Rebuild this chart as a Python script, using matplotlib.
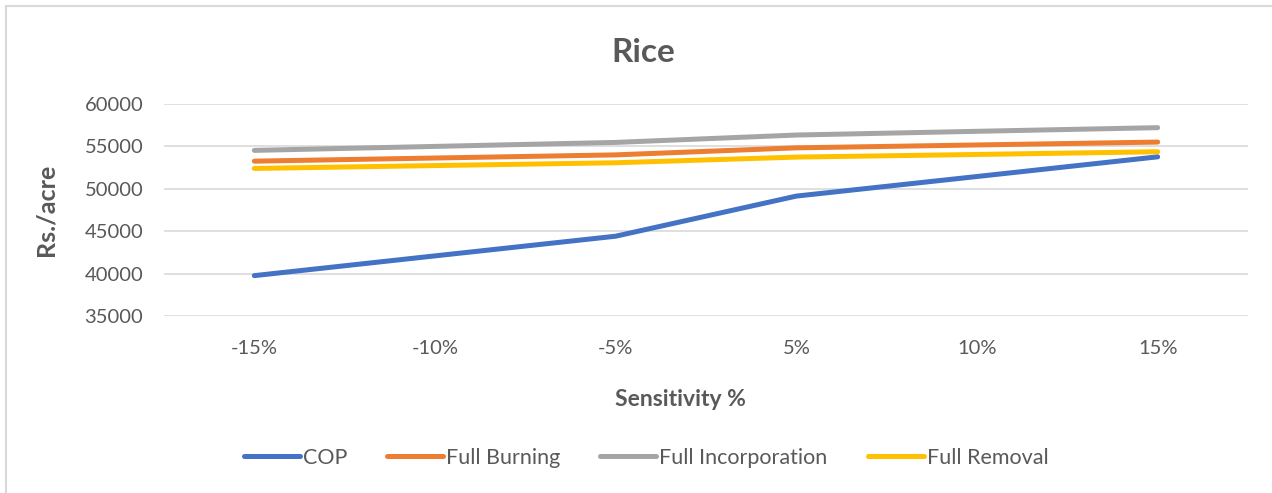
import matplotlib.pyplot as plt
from matplotlib.patches import Rectangle

# categories and series
categories = ["-15%", "-10%", "-5%", "5%", "10%", "15%"]
cop = [39760, 42090, 44410, 49140, 51450, 53770]
full_burning = [53260, 53630, 54000, 54830, 55170, 55510]
full_incorporation = [54530, 55000, 55470, 56340, 56780, 57210]
full_removal = [52400, 52740, 53070, 53740, 54050, 54370]

series_names = ["COP", "Full Burning", "Full Incorporation", "Full Removal"]
series_colors = ["#4472C4", "#ED7D31", "#A5A5A5", "#FFC000"]

TEXT = "#595959"
plt.rcParams["font.family"] = ["Lato", "DejaVu Sans"]

W, H = 1272, 493
fig = plt.figure(figsize=(W / 100, H / 100), dpi=100)
ax = fig.add_axes([164 / W, 1 - 316 / H, (1248 - 164) / W, (316 - 104) / H])

# light border round the chart area, like an Excel chart frame
fig.patches.append(Rectangle((6 / W, -0.1), 1.2, 1 - 6 / H + 0.1,
                             transform=fig.transFigure, fill=False,
                             edgecolor="#D9D9D9", linewidth=1.5))

x = range(len(categories))
for vals, name, col in zip([cop, full_burning, full_incorporation, full_removal],
                           series_names, series_colors):
    ax.plot(x, vals, color=col, linewidth=3.6, label=name,
            solid_capstyle="round", solid_joinstyle="round", zorder=3)

ax.set_xlim(-0.5, len(categories) - 0.5)
ax.set_ylim(35000, 60000)
ax.set_yticks(range(35000, 60001, 5000))
ax.set_xticks(list(x))
ax.set_xticklabels(categories)
ax.tick_params(axis="both", length=0, labelsize=14.5, colors=TEXT)
ax.tick_params(axis="y", pad=15)
ax.tick_params(axis="x", pad=17)
ax.grid(axis="y", color="#D9D9D9", linewidth=1.2)
for s in ax.spines.values():
    s.set_visible(False)

fig.text(643 / W, 1 - 52 / H, "Rice", fontsize=24, fontweight="bold",
         color=TEXT, ha="center", va="center")
fig.text(680 / W, 1 - 400 / H, "Sensitivity %", fontsize=16.5, fontweight="bold",
         color=TEXT, ha="center", va="center")
ax.set_ylabel("Rs./acre", fontsize=18, fontweight="bold", color=TEXT)
ax.yaxis.set_label_coords(-(164 - 57) / (1248 - 164), 0.5)

leg = fig.legend(loc="center", bbox_to_anchor=(646 / W, 1 - 458 / H), ncol=4,
                 frameon=False, fontsize=15.5, handlelength=2.6,
                 handletextpad=0.15, columnspacing=1.85)
for t in leg.get_texts():
    t.set_color(TEXT)

fig.savefig("out.png", dpi=100)
